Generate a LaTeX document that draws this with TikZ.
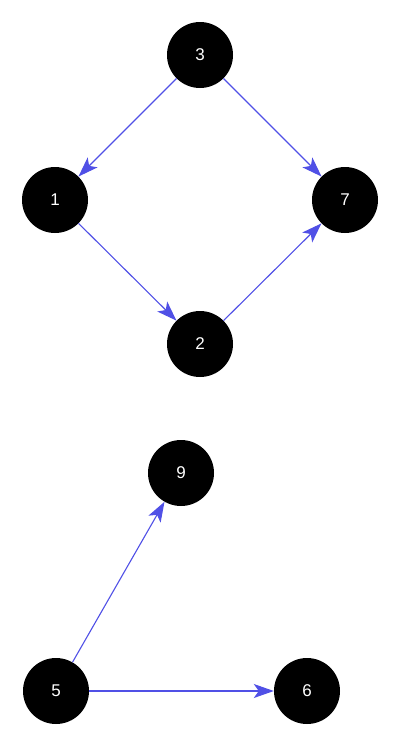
\documentclass[tikz,border=0pt]{standalone}
\usepackage{fontspec}
\setmainfont{Liberation Sans}
\usetikzlibrary{arrows.meta}
\definecolor{edgeblue}{RGB}{80,80,230}
\begin{document}
\begin{tikzpicture}[x=1pt,y=-1pt,
  vert/.style={circle,fill=black,minimum size=66pt,inner sep=0pt,text=white,font=\fontsize{17}{20}\selectfont},
  tipstyle/.tip={Stealth[length=20pt,width=14pt,inset=5pt]},
  edge/.style={draw=edgeblue,line width=1.1pt,-tipstyle}]
\useasboundingbox (0,0) rectangle (400,748);
\node[vert] (n3) at (200,55) {3};
\node[vert] (n1) at (55,200) {1};
\node[vert] (n7) at (345,200) {7};
\node[vert] (n2) at (200,344) {2};
\node[vert] (n9) at (181,473) {9};
\node[vert] (n5) at (56,691) {5};
\node[vert] (n6) at (307,691) {6};
\draw[edge] (n3) -- (n1);
\draw[edge] (n3) -- (n7);
\draw[edge] (n1) -- (n2);
\draw[edge] (n2) -- (n7);
\draw[edge] (n5) -- (n9);
\draw[edge] (n5) -- (n6);
\end{tikzpicture}
\end{document}
